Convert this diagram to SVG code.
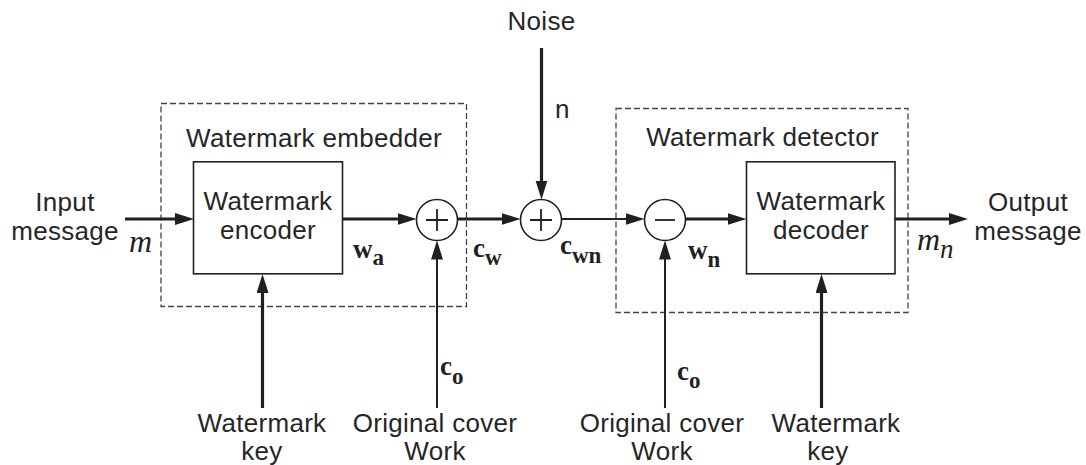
<svg xmlns="http://www.w3.org/2000/svg" width="1086" height="465" viewBox="0 0 1086 465">
<style>
  .lbl{font-family:"Liberation Sans",Arial,sans-serif;font-size:26px;letter-spacing:0.3px;fill:#262626}
  .mid{text-anchor:middle}
  .box{fill:none;stroke:#231f20;stroke-width:1.6}
  .dash{fill:none;stroke:#444;stroke-width:1.3;stroke-dasharray:6 3}
  .sum{fill:#fff;stroke:#231f20;stroke-width:1.6}
  .sign{stroke:#231f20;stroke-width:1.8;fill:none}
  .w3{stroke:#231f20;stroke-width:3.2;fill:none}
  .w2{stroke:#231f20;stroke-width:2;fill:none}
  .bm{font-family:"Liberation Serif","Times New Roman",serif;font-weight:bold;font-size:27px;fill:#231f20}
  .sub{font-size:23px}
  .im{font-family:"Liberation Serif","Times New Roman",serif;font-style:italic;font-size:32px;fill:#231f20}
</style>
<defs>
  <marker id="ah" markerUnits="userSpaceOnUse" markerWidth="20" markerHeight="14" refX="9" refY="6" orient="auto">
    <path d="M0,0 L19,6 L0,12 z" fill="#231f20"/>
  </marker>
</defs>

<rect width="1086" height="465" fill="#fff"/>

<g id="embedder">
  <rect class="dash" x="161" y="103.5" width="305.5" height="203"/>
  <text class="lbl mid" x="314" y="146.5">Watermark embedder</text>
</g>
<g id="detector">
  <rect class="dash" x="616" y="108.5" width="292" height="204"/>
  <text class="lbl mid" x="762.5" y="145.5">Watermark detector</text>
</g>

<g id="encoder">
  <rect class="box" x="193.5" y="161.8" width="149" height="112"/>
  <text class="lbl mid" x="268" y="209.5">Watermark</text>
  <text class="lbl mid" x="268" y="239">encoder</text>
</g>
<g id="decoder">
  <rect class="box" x="746.5" y="161.8" width="148.5" height="112"/>
  <text class="lbl mid" x="821" y="210">Watermark</text>
  <text class="lbl mid" x="821" y="239">decoder</text>
</g>

<g id="connectors">
  <line class="w3" x1="125" y1="219" x2="184" y2="219" marker-end="url(#ah)"/>
  <line class="w3" x1="342.5" y1="219" x2="406.5" y2="219" marker-end="url(#ah)"/>
  <line class="w3" x1="457.5" y1="219" x2="510.5" y2="219" marker-end="url(#ah)"/>
  <line class="w3" x1="541.5" y1="48" x2="541.5" y2="189.5" marker-end="url(#ah)"/>
  <line class="w2" x1="561.5" y1="219" x2="634.5" y2="219" marker-end="url(#ah)"/>
  <line class="w3" x1="685.5" y1="219" x2="736.5" y2="219" marker-end="url(#ah)"/>
  <line class="w3" x1="895" y1="219" x2="958" y2="219" marker-end="url(#ah)"/>
  <line class="w3" x1="262.5" y1="408" x2="262.5" y2="284" marker-end="url(#ah)"/>
  <line class="w2" x1="437" y1="408" x2="437" y2="250.5" marker-end="url(#ah)"/>
  <line class="w2" x1="665" y1="408" x2="665" y2="250.5" marker-end="url(#ah)"/>
  <line class="w3" x1="821.5" y1="408" x2="821.5" y2="284" marker-end="url(#ah)"/>
</g>

<g id="plus1">
  <circle class="sum" cx="437" cy="220" r="20.5"/>
  <path class="sign" d="M426,220 H448 M437,209 V231"/>
</g>
<g id="plus2">
  <circle class="sum" cx="541" cy="220" r="20.5"/>
  <path class="sign" d="M530,220 H552 M541,209 V231"/>
</g>
<g id="minus">
  <circle class="sum" cx="665" cy="220" r="20.5"/>
  <path class="sign" d="M655,220 H675"/>
</g>

<g id="input">
  <text class="lbl mid" x="65" y="210.5">Input</text>
  <text class="lbl mid" x="65" y="240">message</text>
  <text class="im" x="129" y="252">m</text>
</g>
<g id="output">
  <text class="lbl mid" x="1028" y="210.5">Output</text>
  <text class="lbl mid" x="1028" y="240">message</text>
  <text class="im" x="917" y="250">m<tspan dy="8" font-size="27">n</tspan></text>
</g>
<g id="noise">
  <text class="lbl mid" x="541.5" y="30">Noise</text>
  <text class="lbl" x="555" y="118">n</text>
</g>

<g id="signals">
  <text class="bm" x="353" y="258">w<tspan class="sub" dy="7">a</tspan></text>
  <text class="bm" x="473" y="257">c<tspan class="sub" dy="8">w</tspan></text>
  <text class="bm" x="560" y="254">c<tspan class="sub" dy="9">wn</tspan></text>
  <text class="bm" x="688" y="259">w<tspan class="sub" dy="8">n</tspan></text>
  <text class="bm" x="440" y="375">c<tspan class="sub" dy="9">o</tspan></text>
  <text class="bm" x="677" y="380">c<tspan class="sub" dy="8">o</tspan></text>
</g>

<g id="key1">
  <text class="lbl mid" x="262" y="431.5">Watermark</text>
  <text class="lbl mid" x="262" y="460">key</text>
</g>
<g id="cover1">
  <text class="lbl mid" x="435" y="431.5">Original cover</text>
  <text class="lbl mid" x="435" y="460">Work</text>
</g>
<g id="cover2">
  <text class="lbl mid" x="662" y="431.5">Original cover</text>
  <text class="lbl mid" x="662" y="460">Work</text>
</g>
<g id="key2">
  <text class="lbl mid" x="836" y="431.5">Watermark</text>
  <text class="lbl mid" x="828" y="460">key</text>
</g>
</svg>
